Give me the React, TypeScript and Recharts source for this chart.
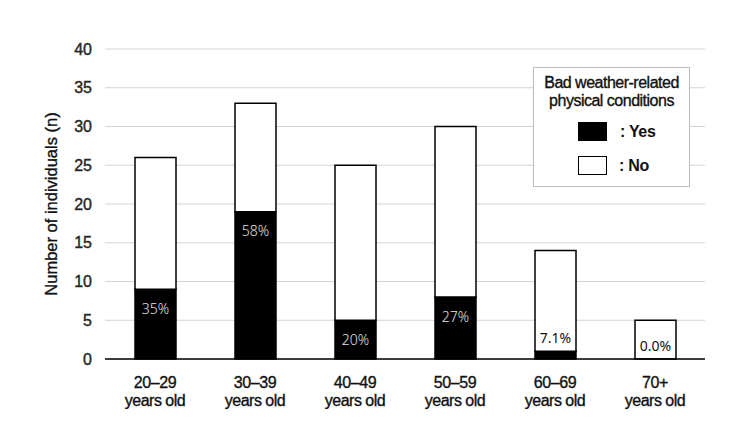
import React from 'react';
import { BarChart, Bar, XAxis, YAxis, CartesianGrid, Legend, LabelList } from 'recharts';

const categories = ['20–29', '30–39', '40–49', '50–59', '60–69', '70+'];
const yesCounts = [9, 19, 5, 8, 1, 0];
const noCounts = [17, 14, 20, 22, 13, 5];
const pctLabels = ['35%', '58%', '20%', '27%', '7.1%', '0.0%'];
const yTicks = [0, 5, 10, 15, 20, 25, 30, 35, 40];

const data = categories.map((c, i) => ({ cat: c, yes: yesCounts[i], no: noCounts[i], pct: pctLabels[i] }));

const FONT = '"Liberation Sans", Arial, sans-serif';

const XTick = (props: any) => {
  const { x, y, payload } = props;
  return (
    <g>
      <text x={x} y={y + 29} textAnchor="middle" fontFamily={FONT} fontSize={16} letterSpacing={-0.4} fill="#111" stroke="#111" strokeWidth={0.35}>{payload.value}</text>
      <text x={x} y={y + 47} textAnchor="middle" fontFamily={FONT} fontSize={16} letterSpacing={-0.5} fill="#111" stroke="#111" strokeWidth={0.35}>years old</text>
    </g>
  );
};

// Label drawn from the "no" segment: its bottom edge is the top of the "yes" segment.
const PctLabel = (props: any) => {
  const { x, y, width, height, value } = props;
  const idx = pctLabels.indexOf(String(value));
  const cx = Number(x) + Number(width) / 2;
  const yesTop = Number(y) + Number(height);
  const inside = idx >= 0 && yesCounts[idx] >= 3;
  return (
    <text
      x={cx}
      y={inside ? yesTop + 19 : yesTop - 14}
      textAnchor="middle"
      dominantBaseline="central"
      fontFamily='"Noto Sans", "DejaVu Sans", sans-serif'
      fontWeight={inside ? 300 : 400}
      fontSize={14}
      fill={inside ? '#e2e2e2' : '#111'}
    >
      {value}
    </text>
  );
};

const LegendBox = () => (
  <div
    style={{
      width: 157,
      height: 120,
      boxSizing: 'border-box',
      border: '1.5px solid #bdbdbd',
      background: '#fff',
      fontFamily: FONT,
      color: '#111',
      position: 'relative',
    }}
  >
    <div style={{ position: 'absolute', top: 6, left: 0, width: '100%', textAlign: 'center', fontSize: 16, letterSpacing: -0.5, lineHeight: '18px', WebkitTextStroke: '0.35px #111' } as any}>
      Bad weather-related
      <br />
      physical conditions
    </div>
    <div style={{ position: 'absolute', left: 44, top: 54, width: 29, height: 19, background: '#000', border: '1px solid #000', boxSizing: 'border-box' }} />
    <div style={{ position: 'absolute', left: 86, top: 54, fontSize: 16, fontWeight: 'bold', letterSpacing: -0.3, lineHeight: '19px' }}>: Yes</div>
    <div style={{ position: 'absolute', left: 44, top: 88, width: 29, height: 19, background: '#fff', border: '1.5px solid #000', boxSizing: 'border-box' }} />
    <div style={{ position: 'absolute', left: 85, top: 88, fontSize: 16, fontWeight: 'bold', letterSpacing: -0.3, lineHeight: '19px' }}>: No</div>
  </div>
);

export default function App() {
  return (
    <div style={{ position: 'absolute', left: 0, top: 0, width: 750, height: 440, background: '#fff' }}>
      <BarChart width={750} height={440} data={data} margin={{ top: 49, right: 45, bottom: 31, left: 0 }}>
        <CartesianGrid vertical={false} stroke="#d3d3d3" strokeWidth={1.2} />
        <XAxis
          dataKey="cat"
          height={50}
          tick={<XTick />}
          tickLine={false}
          tickSize={0}
          tickMargin={0}
          axisLine={{ stroke: '#000', strokeWidth: 1.5 }}
          interval={0}
        />
        <YAxis
          width={105}
          domain={[0, 40]}
          ticks={yTicks}
          tickLine={false}
          tickSize={0}
          tickMargin={13}
          axisLine={false}
          tick={{ fontFamily: FONT, fontSize: 16, fill: '#262626', stroke: '#262626', strokeWidth: 0.4 }}
          label={{
            value: 'Number of individuals (n)',
            angle: -90,
            position: 'center',
            dx: -1,
            style: { fontFamily: FONT, fontSize: 16.5, fill: '#111', stroke: '#111', strokeWidth: 0.35, textAnchor: 'middle' },
          }}
        />
        <Legend
          layout="vertical"
          align="center"
          verticalAlign="middle"
          content={() => <LegendBox />}
          wrapperStyle={{ position: 'absolute', left: 533, top: 67, width: 157, height: 120 }}
        />
        <Bar dataKey="yes" stackId="a" fill="#000" stroke="#000" strokeWidth={1.5} barSize={41} isAnimationActive={false} />
        <Bar dataKey="no" stackId="a" fill="#fff" stroke="#000" strokeWidth={1.5} barSize={41} isAnimationActive={false}>
          <LabelList dataKey="pct" content={<PctLabel />} />
        </Bar>
      </BarChart>
    </div>
  );
}
